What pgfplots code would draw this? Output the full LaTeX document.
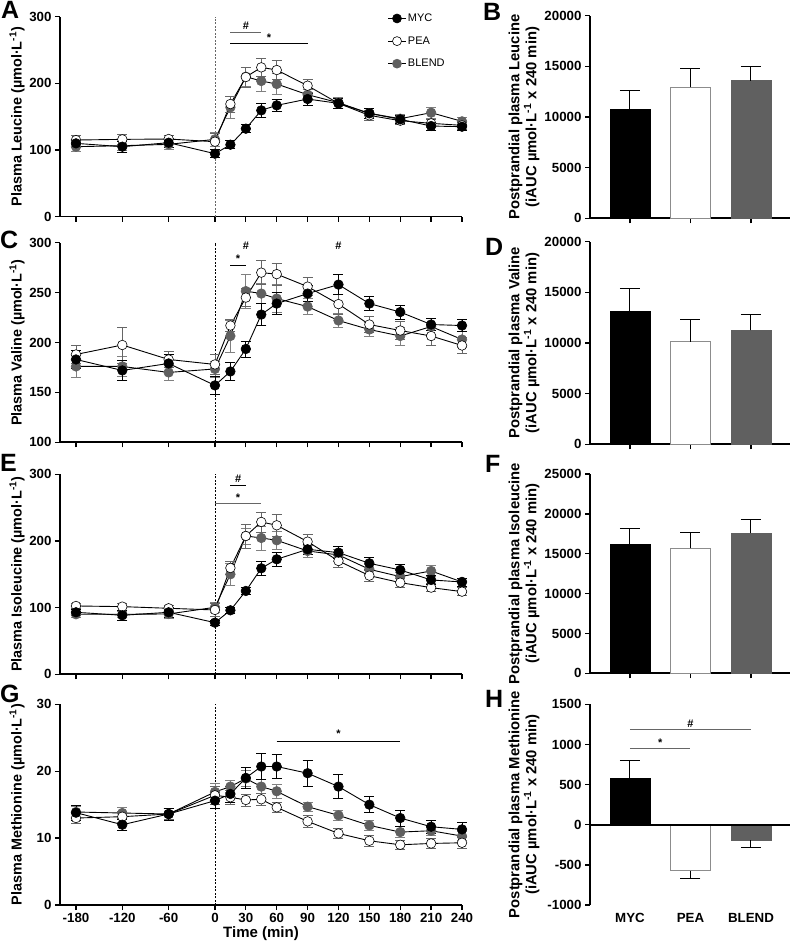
\documentclass[border=0pt]{standalone}
\usepackage{pgfplots}
\pgfplotsset{compat=1.18}
\usepackage{pgfplotstable}
\usepackage{fontspec}
\setmainfont{Liberation Sans}

\definecolor{blendc}{HTML}{606060}
\definecolor{peaedge}{HTML}{8C8C8C}
\definecolor{sigg}{HTML}{666666}

% t = transformed time (t<0: min/40, t>=0: min/30)
\pgfplotstableread{
t myc mycE pea peaE bl blE
-4.5 110 6 115 7 105 7
-3 105 8 116 8 106.5 7
-1.5 111 7 116.5 6 108.5 7
0 94.5 6 112.5 12 116 10
0.5 108 6 169 12 164 16
1 132 6 209.5 15 210 14
1.5 159.5 10 224 14 203.5 16
2 167 9 220 14 199 16
3 176.5 9 196.5 10 183 8
4 170 8 170 8 171 8
5 155 7 152 7 155 7
6 146 6 144 6 147 6
7 136 6 140 6 156 8
8 135 6 137 6 143 6
}\leu
\pgfplotstableread{
t myc mycE pea peaE bl blE
-4.5 183 9 188 9 176 11
-3 172 10 197.5 18 176 10
-1.5 179 9 183 8 170 8
0 157 9 178 10 173.5 8
0.5 171 9 217 6 206.5 16
1 193.5 8 245 9 251.5 17
1.5 228 11 270 12 249 10
2 239 11 268.5 11 244 14
3 249 8 256 9 236 8
4 258 10 238.5 10 222 7
5 239 7 218 8 213 7
6 230.5 7 212 9 206.5 9
7 218 6 206.5 9 216 8
8 217 6 197 8 203 8
}\val
\pgfplotstableread{
t myc mycE pea peaE bl blE
-4.5 93 5 102.5 4 90 5
-3 88.5 7 101.5 5 90 5
-1.5 93 8 99 5 90.5 6
0 77.5 4 96.5 10 100.5 8
0.5 96 5 159.5 10 150 16
1 125 5 207.5 18 207.5 12
1.5 159 10 228.5 15 204.5 18
2 172.5 10 223.5 17 201 14
3 187.5 8 199 11 185 9
4 182.5 9 170 9 179 9
5 166.5 9 148 8 157.5 8
6 156.5 9 137.5 7 146.5 7
7 141.5 7 130 6 155 8
8 138.5 6 124 6 138.5 6
}\ile
\pgfplotstableread{
t myc mycE pea peaE bl blE
-4.5 13.8 1.1 13.0 0.8 13.9 0.9
-3 12.0 0.8 13.2 0.8 13.75 0.8
-1.5 13.6 0.9 13.6 0.8 13.6 0.8
0 15.6 1.2 16.4 1.3 16.9 1.3
0.5 16.6 1.2 16.1 1.0 17.7 0.9
1 19.0 1.5 15.7 0.9 18.9 1.2
1.5 20.7 2.0 15.8 0.9 17.7 1.0
2 20.7 1.8 14.6 0.8 17.0 1.0
3 19.7 1.9 12.5 0.9 14.7 0.7
4 17.7 1.8 10.7 0.8 13.4 0.7
5 15.0 1.2 9.6 0.8 11.9 0.7
6 13.0 1.2 9.0 0.7 10.9 0.8
7 11.7 1.0 9.2 0.8 11.1 0.7
8 11.3 1.0 9.3 0.8 10.3 0.7
}\met

\pgfplotsset{
  common/.style={
    scale only axis, clip=false,
    axis x line*=bottom, axis y line*=left,
    axis line style={line width=1.6pt, -},
    tick style={line width=1.3pt, black},
    tick align=outside, major tick length=5pt,
    ticklabel style={font=\fontsize{13.3}{14}\selectfont\bfseries},
    /pgf/number format/assume math mode=true,
    /pgf/number format/set thousands separator={},
    scaled y ticks=false,
  },
  lineax/.style={common, width=402pt, xmin=-5.018, xmax=8,
    xtick={-4.5,-3,-1.5,0,1,2,3,4,5,6,7,8}, xticklabels={},
    ylabel style={font=\fontsize{14.4}{15}\selectfont\bfseries,
      at={(axis description cs:-0.107,0.5)}, anchor=center},
  },
  barax/.style={common, width=200pt, xmin=-0.661, xmax=2.645,
    xtick={0,1,2}, xticklabels={}, ybar, bar width=40pt, bar shift=0pt,
    ylabel style={font=\fontsize{14.8}{17}\selectfont\bfseries, align=center,
      at={(axis description cs:-0.33,0.5)}, anchor=center},
  },
  smyc/.style={black, line width=0.9pt, mark=*, mark size=4.8pt,
    mark options={fill=black, draw=black, line width=0.6pt},
    error bars/y dir=both, error bars/y explicit,
    error bars/error bar style={line width=0.8pt, black},
    error bars/error mark options={rotate=90, line width=0.8pt, black, mark size=5pt}},
  spea/.style={black, line width=0.9pt, mark=*, mark size=4.8pt,
    mark options={fill=white, draw=black, line width=0.6pt},
    error bars/y dir=both, error bars/y explicit,
    error bars/error bar style={line width=0.8pt, black!60},
    error bars/error mark options={rotate=90, line width=0.8pt, black!60, mark size=5pt}},
  sbl/.style={black, line width=0.9pt, mark=*, mark size=4.8pt,
    mark options={fill=blendc, draw=blendc, line width=0.6pt},
    error bars/y dir=both, error bars/y explicit,
    error bars/error bar style={line width=0.8pt, black!50},
    error bars/error mark options={rotate=90, line width=0.8pt, black!50, mark size=5pt}},
  bmyc/.style={fill=black, draw=black, line width=0.8pt,
    error bars/y explicit, error bars/error bar style={line width=1pt, black},
    error bars/error mark options={rotate=90, line width=1pt, black, mark size=10pt}},
  bpea/.style={fill=white, draw=peaedge, line width=0.8pt,
    error bars/y explicit, error bars/error bar style={line width=1pt, black},
    error bars/error mark options={rotate=90, line width=1pt, black, mark size=10pt}},
  bbl/.style={fill=blendc, draw=blendc, line width=0.8pt,
    error bars/y explicit, error bars/error bar style={line width=1pt, black},
    error bars/error mark options={rotate=90, line width=1pt, black, mark size=10pt}},
}
\newcommand{\lett}[3]{\node[anchor=north west, inner sep=0pt, font=\fontsize{25}{25}\selectfont\bfseries] at (#1pt,{948pt-#2pt}) {#3};}
\newcommand{\sig}{\fontsize{11}{11}\selectfont\bfseries}

\begin{document}
\begin{tikzpicture}
\path[use as bounding box] (0,0) rectangle (793pt,948pt);

% ---------- A ----------
\begin{axis}[lineax, at={(60pt,731.3pt)}, anchor=south west, height=200pt,
  ymin=0, ymax=300, ytick={0,100,200,300},
  ylabel={Plasma Leucine (µmol·L\textsuperscript{-1})},
  reverse legend,
  legend style={draw=none, fill=none, at={(axis description cs:0.808,1.035)},
    anchor=north west, row sep=9.5pt, font=\fontsize{11}{11}\selectfont,
    legend cell align=left},
  legend image post style={mark size=4.5pt}]
\draw[sigg, line width=0.6pt, dash pattern=on 2pt off 1.5pt] (axis cs:0,0) -- (axis cs:0,300);
\addplot[sbl] table[x=t, y=bl, y error=blE]{\leu}; \addlegendentry{BLEND}
\addplot[spea] table[x=t, y=pea, y error=peaE]{\leu}; \addlegendentry{PEA}
\addplot[smyc] table[x=t, y=myc, y error=mycE]{\leu}; \addlegendentry{MYC}
\draw[sigg, line width=0.9pt] (axis cs:0.5,276) -- (axis cs:1.5,276);
\node[font=\sig] at (axis cs:1,287) {\#};
\draw[black, line width=0.9pt] (axis cs:0.5,260) -- (axis cs:3,260);
\node[font=\sig] at (axis cs:1.75,268) {*};
\end{axis}

% ---------- C ----------
\begin{axis}[lineax, at={(60pt,505.7pt)}, anchor=south west, height=199.6pt,
  ymin=100, ymax=300, ytick={100,150,200,250,300},
  ylabel={Plasma Valine (µmol·L\textsuperscript{-1})}]
\draw[black, line width=0.6pt, dash pattern=on 2pt off 1.5pt] (axis cs:0,100) -- (axis cs:0,300);
\addplot[sbl] table[x=t, y=bl, y error=blE]{\val};
\addplot[spea] table[x=t, y=pea, y error=peaE]{\val};
\addplot[smyc] table[x=t, y=myc, y error=mycE]{\val};
\draw[black, line width=0.9pt] (axis cs:0.5,277.5) -- (axis cs:1,277.5);
\node[font=\sig] at (axis cs:0.75,284) {*};
\node[font=\sig] at (axis cs:1,297) {\#};
\node[font=\sig] at (axis cs:4,297) {\#};
\end{axis}

% ---------- E ----------
\begin{axis}[lineax, at={(60pt,273.7pt)}, anchor=south west, height=200pt,
  ymin=0, ymax=300, ytick={0,100,200,300},
  ylabel={Plasma Isoleucine (µmol·L\textsuperscript{-1})}]
\draw[black, line width=0.6pt, dash pattern=on 2pt off 1.5pt] (axis cs:0,0) -- (axis cs:0,300);
\addplot[sbl] table[x=t, y=bl, y error=blE]{\ile};
\addplot[spea] table[x=t, y=pea, y error=peaE]{\ile};
\addplot[smyc] table[x=t, y=myc, y error=mycE]{\ile};
\draw[black, line width=0.9pt] (axis cs:0.5,284) -- (axis cs:1,284);
\node[font=\sig] at (axis cs:0.75,294) {\#};
\draw[sigg, line width=0.9pt] (axis cs:0,256.5) -- (axis cs:1.5,256.5);
\node[font=\sig] at (axis cs:0.75,265) {*};
\end{axis}

% ---------- G ----------
\begin{axis}[lineax, at={(60pt,43pt)}, anchor=south west, height=200.7pt,
  ymin=0, ymax=30, ytick={0,10,20,30},
  xticklabels={-180,-120,-60,0,30,60,90,120,150,180,210,240},
  xlabel={Time (min)},
  xlabel style={font=\fontsize{15}{16}\selectfont\bfseries, yshift=3pt},
  ylabel={Plasma Methionine (µmol·L\textsuperscript{-1})}]
\draw[black, line width=0.6pt, dash pattern=on 2pt off 1.5pt] (axis cs:0,0) -- (axis cs:0,30);
\addplot[sbl] table[x=t, y=bl, y error=blE]{\met};
\addplot[spea] table[x=t, y=pea, y error=peaE]{\met};
\addplot[smyc] table[x=t, y=myc, y error=mycE]{\met};
\draw[black, line width=0.9pt] (axis cs:2,24.5) -- (axis cs:6,24.5);
\node[font=\sig] at (axis cs:4,25.6) {*};
\end{axis}

% ---------- B ----------
\begin{axis}[barax, at={(590pt,729.7pt)}, anchor=south west, height=202.6pt,
  ymin=0, ymax=20000, ytick={0,5000,10000,15000,20000},
  ylabel={Postprandial plasma Leucine\\(iAUC µmol·L\textsuperscript{-1} x 240 min)}]
\addplot[bmyc, error bars/y dir=plus] coordinates {(0,10790) +- (0,1776)};
\addplot[bpea, error bars/y dir=plus] coordinates {(1,12930) +- (0,1810)};
\addplot[bbl, error bars/y dir=plus] coordinates {(2,13590) +- (0,1380)};
\end{axis}

% ---------- D ----------
\begin{axis}[barax, at={(590pt,503.7pt)}, anchor=south west, height=202.6pt,
  ymin=0, ymax=20000, ytick={0,5000,10000,15000,20000},
  ylabel={Postprandial plasma Valine\\(iAUC µmol·L\textsuperscript{-1} x 240 min)}]
\addplot[bmyc, error bars/y dir=plus] coordinates {(0,13090) +- (0,2300)};
\addplot[bpea, error bars/y dir=plus] coordinates {(1,10130) +- (0,2200)};
\addplot[bbl, error bars/y dir=plus] coordinates {(2,11250) +- (0,1580)};
\end{axis}

% ---------- F ----------
\begin{axis}[barax, at={(590pt,274.7pt)}, anchor=south west, height=199.3pt,
  ymin=0, ymax=25000, ytick={0,5000,10000,15000,20000,25000},
  ylabel={Postprandial plasma Isoleucine\\(iAUC µmol·L\textsuperscript{-1} x 240 min)}]
\addplot[bmyc, error bars/y dir=plus] coordinates {(0,16180) +- (0,1960)};
\addplot[bpea, error bars/y dir=plus] coordinates {(1,15680) +- (0,1960)};
\addplot[bbl, error bars/y dir=plus] coordinates {(2,17560) +- (0,1760)};
\end{axis}

% ---------- H ----------
\begin{axis}[barax, at={(590pt,43pt)}, anchor=south west, height=200.7pt,
  ymin=-1000, ymax=1500, ytick={-1000,-500,0,500,1000,1500},
  x axis line style={draw=none}, xtick style={draw=none},
  xticklabels={MYC,PEA,BLEND},
  ylabel={Postprandial plasma Methionine\\(iAUC µmol·L\textsuperscript{-1} x 240 min)}]
\addplot[bmyc, error bars/y dir=plus] coordinates {(0,575) +- (0,225)};
\addplot[bpea, error bars/y dir=minus] coordinates {(1,-575) +- (0,92)};
\addplot[bbl, error bars/y dir=minus] coordinates {(2,-192) +- (0,92)};
\draw[black, line width=1.6pt] (axis cs:-0.661,0) -- (axis cs:2.645,0);
\draw[sigg, line width=0.9pt] (axis cs:0,954) -- (axis cs:1,954);
\node[font=\sig] at (axis cs:0.5,1020) {*};
\draw[sigg, line width=0.9pt] (axis cs:0,1192) -- (axis cs:2,1192);
\node[font=\sig] at (axis cs:1,1262) {\#};
\end{axis}

\lett{1}{1}{A}
\lett{483}{3}{B}
\lett{0}{231}{C}
\lett{485}{238}{D}
\lett{0}{454}{E}
\lett{485}{455}{F}
\lett{0}{685}{G}
\lett{485}{690}{H}
\end{tikzpicture}
\end{document}
